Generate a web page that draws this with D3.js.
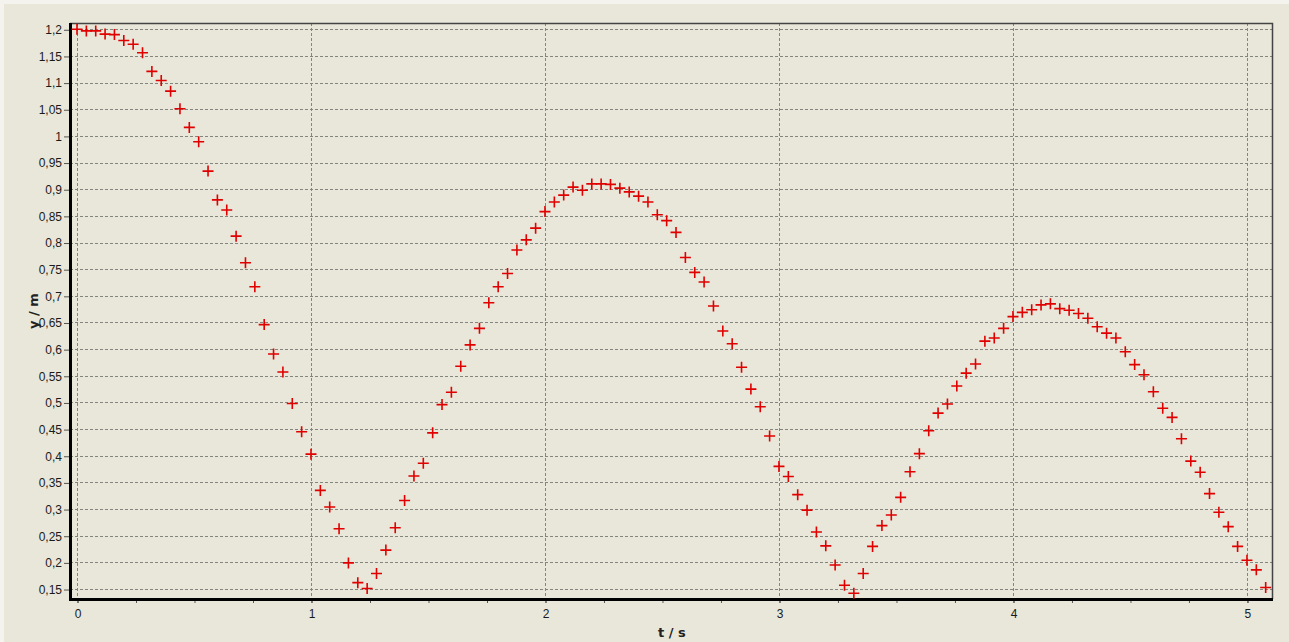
<!DOCTYPE html>
<html>
<head>
<meta charset="utf-8">
<script src="https://cdn.jsdelivr.net/npm/d3@7"></script>
<style>
  body { margin: 0; background: #f4f3ee; }
  .chart text { font-family: "Liberation Sans", Arial, sans-serif; }
</style>
</head>
<body>
<div class="chart"></div>
<script>
// time in s (sample every 0.04 s)
var times = [
  0.00, 0.04, 0.08, 0.12, 0.16, 0.20, 0.24, 0.28, 0.32, 0.36,
  0.40, 0.44, 0.48, 0.52, 0.56, 0.60, 0.64, 0.68, 0.72, 0.76,
  0.80, 0.84, 0.88, 0.92, 0.96, 1.00, 1.04, 1.08, 1.12, 1.16,
  1.20, 1.24, 1.28, 1.32, 1.36, 1.40, 1.44, 1.48, 1.52, 1.56,
  1.60, 1.64, 1.68, 1.72, 1.76, 1.80, 1.84, 1.88, 1.92, 1.96,
  2.00, 2.04, 2.08, 2.12, 2.16, 2.20, 2.24, 2.28, 2.32, 2.36,
  2.40, 2.44, 2.48, 2.52, 2.56, 2.60, 2.64, 2.68, 2.72, 2.76,
  2.80, 2.84, 2.88, 2.92, 2.96, 3.00, 3.04, 3.08, 3.12, 3.16,
  3.20, 3.24, 3.28, 3.32, 3.36, 3.40, 3.44, 3.48, 3.52, 3.56,
  3.60, 3.64, 3.68, 3.72, 3.76, 3.80, 3.84, 3.88, 3.92, 3.96,
  4.00, 4.04, 4.08, 4.12, 4.16, 4.20, 4.24, 4.28, 4.32, 4.36,
  4.40, 4.44, 4.48, 4.52, 4.56, 4.60, 4.64, 4.68, 4.72, 4.76,
  4.80, 4.84, 4.88, 4.92, 4.96, 5.00, 5.04, 5.08
];
// height in m
var heights = [
  1.200, 1.197, 1.197, 1.191, 1.190, 1.179, 1.172, 1.156, 1.121, 1.104,
  1.084, 1.051, 1.016, 0.989, 0.934, 0.880, 0.861, 0.812, 0.762, 0.717,
  0.646, 0.591, 0.557, 0.498, 0.445, 0.403, 0.335, 0.304, 0.263, 0.199,
  0.162, 0.151, 0.179, 0.223, 0.265, 0.316, 0.362, 0.386, 0.443, 0.496,
  0.519, 0.568, 0.608, 0.639, 0.687, 0.717, 0.742, 0.786, 0.805, 0.827,
  0.858, 0.876, 0.889, 0.904, 0.898, 0.910, 0.910, 0.909, 0.902, 0.895,
  0.887, 0.876, 0.852, 0.841, 0.819, 0.772, 0.744, 0.726, 0.681, 0.634,
  0.610, 0.566, 0.525, 0.492, 0.437, 0.380, 0.361, 0.327, 0.298, 0.257,
  0.231, 0.195, 0.157, 0.142, 0.179, 0.230, 0.269, 0.289, 0.322, 0.370,
  0.404, 0.447, 0.480, 0.497, 0.531, 0.555, 0.572, 0.615, 0.621, 0.639,
  0.661, 0.669, 0.674, 0.683, 0.685, 0.676, 0.673, 0.667, 0.658, 0.642,
  0.630, 0.621, 0.595, 0.571, 0.552, 0.520, 0.489, 0.472, 0.432, 0.390,
  0.369, 0.329, 0.294, 0.267, 0.230, 0.204, 0.186, 0.153
];
var xTicks = [0, 1, 2, 3, 4, 5];
var xMinorTicks = [0, 0.25, 0.5, 0.75, 1, 1.25, 1.5, 1.75, 2, 2.25, 2.5, 2.75, 3, 3.25, 3.5, 3.75, 4, 4.25, 4.5, 4.75, 5];
var yTicks = [0.15, 0.2, 0.25, 0.3, 0.35, 0.4, 0.45, 0.5, 0.55, 0.6, 0.65, 0.7, 0.75, 0.8, 0.85, 0.9, 0.95, 1, 1.05, 1.1, 1.15, 1.2];
var labelX = 't / s';
var labelY = 'y / m';

var W = 1289, H = 642;
var box = { left: 70, right: 1272, top: 23, bottom: 599 };

var data = times.map(function (t, i) { return { t: t, y: heights[i] }; });

var x = d3.scaleLinear().domain([-0.0299, 5.107]).range([box.left, box.right]);
var y = d3.scaleLinear().domain([0.1313, 1.2118]).range([box.bottom, box.top]);

// comma as decimal sign
var fmt = function (d) { return String(+d.toFixed(2)).replace('.', ','); };

var svg = d3.select('.chart').append('svg')
    .attr('width', W)
    .attr('height', H);

svg.append('rect')
    .attr('x', 4).attr('y', 4)
    .attr('width', W - 4).attr('height', H - 4)
    .attr('fill', '#e8e7d9');

// grid
var grid = svg.append('g').attr('stroke', '#858580').attr('stroke-width', 1).attr('stroke-dasharray', '3,2');
grid.selectAll('line.h').data(yTicks).enter().append('line')
    .attr('class', 'h')
    .attr('x1', box.left).attr('x2', box.right)
    .attr('y1', function (d) { return Math.round(y(d)) + 0.5; })
    .attr('y2', function (d) { return Math.round(y(d)) + 0.5; });
grid.selectAll('line.v').data(xTicks).enter().append('line')
    .attr('class', 'v')
    .attr('y1', box.top).attr('y2', box.bottom)
    .attr('x1', function (d) { return Math.round(x(d)) + 0.5; })
    .attr('x2', function (d) { return Math.round(x(d)) + 0.5; });

// y axis
var yAxis = d3.axisLeft(y).tickValues(yTicks).tickSize(6).tickPadding(2).tickFormat(fmt);
var gy = svg.append('g')
    .attr('transform', 'translate(' + box.left + ',0.5)')
    .call(yAxis);
gy.select('.domain').remove();
gy.selectAll('.tick line').attr('stroke', '#555');
gy.selectAll('.tick text').attr('fill', '#1a1a1a').style('font-size', '12px');

// x axis: minor ticks, then labelled ticks
var gxm = svg.append('g')
    .attr('transform', 'translate(0.5,' + box.bottom + ')')
    .call(d3.axisBottom(x).tickValues(xMinorTicks).tickSize(4).tickFormat(''));
gxm.select('.domain').remove();
gxm.selectAll('.tick line').attr('stroke', '#555');

var gx = svg.append('g')
    .attr('transform', 'translate(0.5,' + box.bottom + ')')
    .call(d3.axisBottom(x).tickValues(xTicks).tickSize(4).tickPadding(6).tickFormat(fmt));
gx.select('.domain').remove();
gx.selectAll('.tick line').attr('stroke', '#555');
gx.selectAll('.tick text').attr('fill', '#1a1a1a').style('font-size', '12px');

// frame: top/right thin, left/bottom heavy
svg.append('path')
    .attr('d', 'M' + box.left + ',' + (box.top + 0.5) + 'H' + (box.right + 0.5) + 'V' + box.bottom)
    .attr('fill', 'none').attr('stroke', '#444').attr('stroke-width', 1.5);
svg.append('path')
    .attr('d', 'M' + (box.left + 0.5) + ',' + box.top + 'V' + (box.bottom + 0.5) + 'H' + (box.right + 1))
    .attr('fill', 'none').attr('stroke', '#000').attr('stroke-width', 3);

// points as red crosses
svg.append('g').selectAll('path')
    .data(data)
    .enter()
    .append('path')
    .attr('transform', function (d) { return 'translate(' + x(d.t) + ',' + y(d.y) + ')'; })
    .attr('d', 'M-5.5,0H5.5M0,-5.5V5.5')
    .attr('stroke', '#e00000')
    .attr('stroke-width', 1.6)
    .attr('fill', 'none');

// axis titles
svg.append('text')
    .attr('transform', 'translate(38,311) rotate(-90)')
    .attr('text-anchor', 'middle')
    .style('font-family', '"DejaVu Sans", sans-serif')
    .style('font-weight', 'bold')
    .style('font-size', '13px')
    .attr('fill', '#222')
    .text(labelY);

svg.append('text')
    .attr('x', 672)
    .attr('y', 637)
    .attr('text-anchor', 'middle')
    .style('font-family', '"DejaVu Sans", sans-serif')
    .style('font-weight', 'bold')
    .style('font-size', '13px')
    .attr('fill', '#222')
    .text(labelX);
</script>
</body>
</html>
